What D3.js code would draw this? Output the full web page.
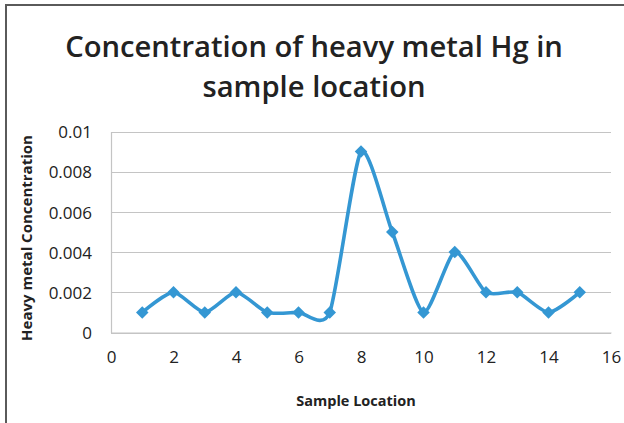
<!DOCTYPE html>
<html>
<head>
<meta charset="utf-8">
<script src="https://cdn.jsdelivr.net/npm/d3@7"></script>
<style>
  html, body { margin: 0; padding: 0; background: #fff; }
  svg { display: block; }
  text { font-family: "Open Sans", "Noto Sans", sans-serif; fill: #222; }
</style>
</head>
<body>
<svg id="chart" width="624" height="423"></svg>
<script>
// Hg concentration per sampling location
const locations = [1, 2, 3, 4, 5, 6, 7, 8, 9, 10, 11, 12, 13, 14, 15];
const hgValues = [0.001, 0.002, 0.001, 0.002, 0.001, 0.001, 0.001, 0.009, 0.005, 0.001, 0.004, 0.002, 0.002, 0.001, 0.002];
const xTicks = [0, 2, 4, 6, 8, 10, 12, 14, 16];
const yTicks = [0, 0.002, 0.004, 0.006, 0.008, 0.01];
const titleLines = ["Concentration of heavy metal Hg in", "sample location"];
const xTitle = "Sample Location";
const yTitle = "Heavy metal Concentration";

const svg = d3.select("#chart");
const W = 624, H = 423;
const plot = { left: 111, right: 611, top: 131.5, bottom: 332.5 };

// outer chart frame
svg.append("rect")
  .attr("x", 6).attr("y", 5)
  .attr("width", W + 10).attr("height", H + 10)
  .attr("fill", "#fff").attr("stroke", "#5a5a5a").attr("stroke-width", 2);

const x = d3.scaleLinear().domain([0, 16]).range([plot.left, plot.right]);
const y = d3.scaleLinear().domain([0, 0.01]).range([plot.bottom, plot.top]);

// horizontal gridlines
svg.append("g")
  .selectAll("line")
  .data(yTicks)
  .join("line")
  .attr("x1", plot.left).attr("x2", plot.right)
  .attr("y1", d => Math.round(y(d)) + 0.5).attr("y2", d => Math.round(y(d)) + 0.5)
  .attr("stroke", "#c4c4c4").attr("stroke-width", 1.2);

// y axis
const yAxis = svg.append("g")
  .attr("transform", `translate(${plot.left},0)`)
  .call(d3.axisLeft(y).tickValues(yTicks).tickSize(0).tickPadding(19)
    .tickFormat(d => d === 0 ? "0" : String(+d.toFixed(3))));
yAxis.select(".domain").attr("stroke", "#c4c4c4").attr("stroke-width", 1.2);
yAxis.selectAll("text").attr("font-size", 17).attr("fill", "#333")
  .attr("font-family", '"Open Sans", sans-serif').attr("dy", "0.36em");

// x axis
const xAxis = svg.append("g")
  .attr("transform", `translate(0,${plot.bottom})`)
  .call(d3.axisBottom(x).tickValues(xTicks).tickSize(0).tickPadding(18));
xAxis.select(".domain").attr("stroke", "#c4c4c4").attr("stroke-width", 1.2);
xAxis.selectAll("text").attr("font-size", 17).attr("fill", "#333")
  .attr("font-family", '"Open Sans", sans-serif');

// smoothed series line
const pts = locations.map((d, i) => [d, hgValues[i]]);
const line = d3.line()
  .x(d => x(d[0])).y(d => y(d[1]))
  .curve(d3.curveCardinal.tension(0.33));
svg.append("path")
  .datum(pts)
  .attr("d", line)
  .attr("fill", "none")
  .attr("stroke", "#3497d3")
  .attr("stroke-width", 3.6)
  .attr("stroke-linejoin", "round");

// diamond markers
svg.append("g")
  .selectAll("path")
  .data(pts)
  .join("path")
  .attr("d", d3.symbol().type(d3.symbolDiamond2).size(100))
  .attr("transform", d => `translate(${x(d[0])},${y(d[1])})`)
  .attr("fill", "#3497d3");

// chart title, sized to its line width
const title = svg.append("g");
const t1 = title.append("text")
  .attr("x", 314).attr("y", 57)
  .attr("text-anchor", "middle").attr("font-weight", 600)
  .attr("font-size", 30).attr("fill", "#111")
  .text(titleLines[0]);
const fs = 30 * 498 / t1.node().getComputedTextLength();
t1.attr("font-size", fs);
title.append("text")
  .attr("x", 314).attr("y", 97)
  .attr("text-anchor", "middle").attr("font-weight", 600)
  .attr("font-size", fs).attr("fill", "#111")
  .text(titleLines[1]);

// axis titles
svg.append("text")
  .attr("x", 356).attr("y", 406)
  .attr("text-anchor", "middle").attr("font-weight", 700)
  .attr("font-size", 14.5).attr("fill", "#222")
  .text(xTitle);

svg.append("text")
  .attr("transform", "translate(32,238) rotate(-90)")
  .attr("text-anchor", "middle").attr("font-weight", 700)
  .attr("font-size", 15).attr("fill", "#222")
  .text(yTitle);
</script>
</body>
</html>
